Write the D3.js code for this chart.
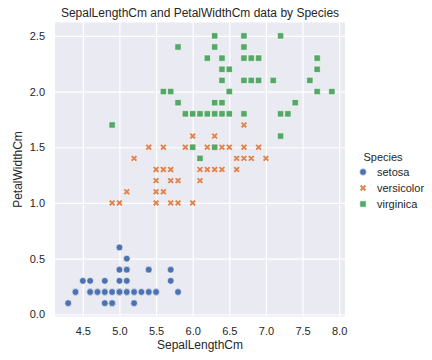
<!DOCTYPE html>
<html>
<head>
<meta charset="utf-8">
<script src="https://cdn.jsdelivr.net/npm/d3@7"></script>
<style>
  body { margin: 0; background: #fff; }
  text { font-family: "Liberation Sans", Arial, sans-serif; fill: #262626; }
</style>
</head>
<body>
<div id="chart"></div>
<script>
// iris: sepal length / petal width per species
var species = ["setosa", "versicolor", "virginica"];
var setosaSepal = [5.1,4.9,4.7,4.6,5.0,5.4,4.6,5.0,4.4,4.9,5.4,4.8,4.8,4.3,5.8,5.7,5.4,5.1,5.7,5.1,5.4,5.1,4.6,5.1,4.8,5.0,5.0,5.2,5.2,4.7,4.8,5.4,5.2,5.5,4.9,5.0,5.5,4.9,4.4,5.1,5.0,4.5,4.4,5.0,5.1,4.8,5.1,4.6,5.3,5.0];
var setosaPetalW = [0.2,0.2,0.2,0.2,0.2,0.4,0.3,0.2,0.2,0.1,0.2,0.2,0.1,0.1,0.2,0.4,0.4,0.3,0.3,0.3,0.2,0.4,0.2,0.5,0.2,0.2,0.4,0.2,0.2,0.2,0.2,0.4,0.1,0.2,0.1,0.2,0.2,0.1,0.2,0.2,0.3,0.3,0.2,0.6,0.4,0.3,0.2,0.2,0.2,0.2];
var versicolorSepal = [7.0,6.4,6.9,5.5,6.5,5.7,6.3,4.9,6.6,5.2,5.0,5.9,6.0,6.1,5.6,6.7,5.6,5.8,6.2,5.6,5.9,6.1,6.3,6.1,6.4,6.6,6.8,6.7,6.0,5.7,5.5,5.5,5.8,6.0,5.4,6.0,6.7,6.3,5.6,5.5,5.5,6.1,5.8,5.0,5.6,5.7,5.7,6.2,5.1,5.7];
var versicolorPetalW = [1.4,1.5,1.5,1.3,1.5,1.3,1.6,1.0,1.3,1.4,1.0,1.5,1.0,1.4,1.3,1.4,1.5,1.0,1.5,1.1,1.8,1.3,1.5,1.2,1.3,1.4,1.4,1.7,1.5,1.0,1.1,1.0,1.2,1.6,1.5,1.6,1.5,1.3,1.3,1.3,1.2,1.4,1.2,1.0,1.3,1.2,1.3,1.3,1.1,1.3];
var virginicaSepal = [6.3,5.8,7.1,6.3,6.5,7.6,4.9,7.3,6.7,7.2,6.5,6.4,6.8,5.7,5.8,6.4,6.5,7.7,7.7,6.0,6.9,5.6,7.7,6.3,6.7,7.2,6.2,6.1,6.4,7.2,7.4,7.9,6.4,6.3,6.1,7.7,6.3,6.4,6.0,6.9,6.7,6.9,5.8,6.8,6.7,6.7,6.3,6.5,6.2,5.9];
var virginicaPetalW = [2.5,1.9,2.1,1.8,2.2,2.1,1.7,1.8,1.8,2.5,2.0,1.9,2.1,2.0,2.4,2.3,1.8,2.2,2.3,1.5,2.3,2.0,2.0,1.8,2.1,1.8,1.8,1.8,2.1,1.6,1.9,2.0,2.2,1.5,1.4,2.3,2.4,1.8,1.8,2.1,2.4,2.3,1.9,2.3,2.5,2.3,1.9,2.0,2.3,1.8];
var xTicks = [4.5,5.0,5.5,6.0,6.5,7.0,7.5,8.0];
var yTicks = [0.0,0.5,1.0,1.5,2.0,2.5];

var colors = {setosa: "#4C72B0", versicolor: "#DD8452", virginica: "#55A868"};

var rows = [];
function addRows(name, xs, ys){
    xs.forEach(function(x, i){ rows.push({sp: name, x: x, y: ys[i]}); });
}
addRows("setosa", setosaSepal, setosaPetalW);
addRows("versicolor", versicolorSepal, versicolorPetalW);
addRows("virginica", virginicaSepal, virginicaPetalW);

var width = 432, height = 360;
var plot = {left: 55, right: 345, top: 22.5, bottom: 316.5};

var svg = d3.select("#chart").append("svg")
    .attr("width", width)
    .attr("height", height);

var xScale = d3.scaleLinear().domain([4.12, 8.08]).range([plot.left, plot.right]);
var yScale = d3.scaleLinear().domain([-0.02, 2.62]).range([plot.bottom, plot.top]);

//background
svg.append("rect")
    .attr("x", plot.left)
    .attr("y", plot.top)
    .attr("width", plot.right - plot.left)
    .attr("height", plot.bottom - plot.top)
    .attr("fill", "#EAEAF2");

//grid via axes
var xAxis = svg.append("g")
    .attr("transform", "translate(0," + plot.bottom + ")")
    .call(d3.axisBottom(xScale).tickValues(xTicks).tickFormat(d3.format(".1f"))
        .tickSize(-(plot.bottom - plot.top)).tickPadding(8));
var yAxis = svg.append("g")
    .attr("transform", "translate(" + plot.left + ",0)")
    .call(d3.axisLeft(yScale).tickValues(yTicks).tickFormat(d3.format(".1f"))
        .tickSize(-(plot.right - plot.left)).tickPadding(10));

[xAxis, yAxis].forEach(function(a){
    a.select(".domain").remove();
    a.selectAll(".tick line").attr("stroke", "#fff").attr("stroke-width", 1.2);
    a.selectAll(".tick text").attr("font-size", "11px").attr("fill", "#262626")
        .style("font-family", "'Liberation Sans', Arial, sans-serif");
});
xAxis.selectAll(".tick text").attr("dy", "0.95em");

//markers
var shapes = {
    setosa: d3.symbol().type(d3.symbolCircle).size(36),
    versicolor: d3.symbol().type(d3.symbolCross).size(30),
    virginica: d3.symbol().type(d3.symbolSquare).size(40)
};

svg.append("g").selectAll("path")
    .data(rows)
    .enter()
    .append("path")
    .attr("d", d => shapes[d.sp]())
    .attr("transform", d => "translate(" + xScale(d.x) + "," + yScale(d.y) + ")" + (d.sp == "versicolor" ? " rotate(45)" : ""))
    .attr("fill", d => colors[d.sp])
    .attr("stroke", "#fff")
    .attr("stroke-width", 0.6);

//title and labels
svg.append("text")
    .attr("x", (plot.left + plot.right) / 2)
    .attr("y", 17)
    .attr("text-anchor", "middle")
    .attr("font-size", "12px")
    .text("SepalLengthCm and PetalWidthCm data by Species");

svg.append("text")
    .attr("x", (plot.left + plot.right) / 2)
    .attr("y", 349)
    .attr("text-anchor", "middle")
    .attr("font-size", "12px")
    .text("SepalLengthCm");

svg.append("text")
    .attr("transform", "translate(22," + (plot.top + plot.bottom) / 2 + ") rotate(-90)")
    .attr("text-anchor", "middle")
    .attr("font-size", "12px")
    .text("PetalWidthCm");

//legend
var legend = svg.append("g").attr("transform", "translate(363,0)");
legend.append("text")
    .attr("x", 20)
    .attr("y", 161)
    .attr("text-anchor", "middle")
    .attr("font-size", "11px")
    .text("Species");

var items = legend.selectAll(".item")
    .data(species)
    .enter()
    .append("g")
    .attr("class", "item")
    .attr("transform", (d, i) => "translate(0," + (172 + i * 16) + ")");
items.append("path")
    .attr("d", d => shapes[d]())
    .attr("transform", d => d == "versicolor" ? "rotate(45)" : "")
    .attr("fill", d => colors[d])
    .attr("stroke", "#fff")
    .attr("stroke-width", 0.6);
items.append("text")
    .attr("x", 14)
    .attr("y", 4)
    .attr("font-size", "11px")
    .text(d => d);
</script>
</body>
</html>
